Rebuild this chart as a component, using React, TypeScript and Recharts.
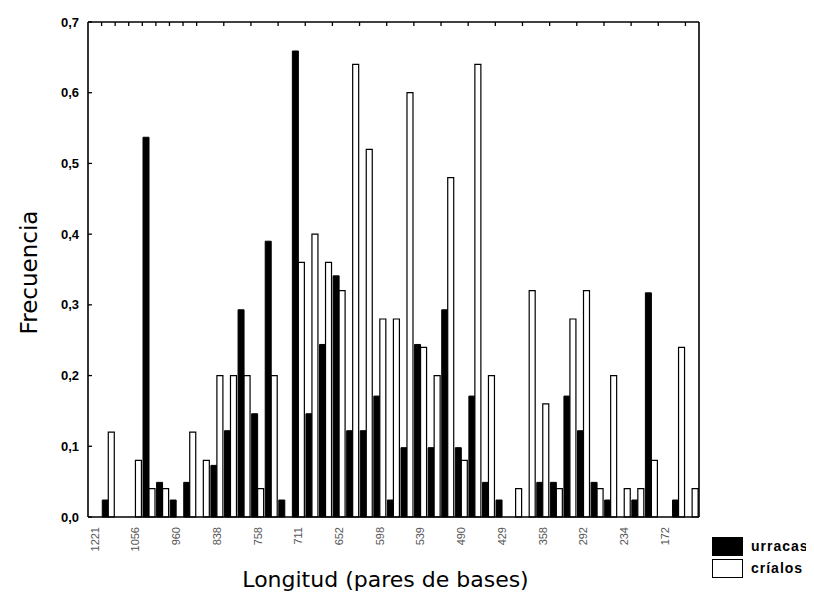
import React from 'react';
import { BarChart, Bar, XAxis, YAxis, Legend } from 'recharts';

// Category labels (longitud en pares de bases), one label every third category
const lengthLabels: string[] = [
  '1221', '', '', '1056', '', '', '960', '', '', '838', '', '', '758', '', '',
  '711', '', '', '652', '', '', '598', '', '', '539', '', '', '490', '', '',
  '429', '', '', '358', '', '', '292', '', '', '234', '', '', '172', '', '',
];

// Frecuencia – urracas (black bars)
const urracas: number[] = [
  0, 0.024, 0, 0, 0.537, 0.049, 0.024, 0.049, 0, 0.073,
  0.122, 0.293, 0.146, 0.39, 0.024, 0.659, 0.146, 0.244, 0.341, 0.122,
  0.122, 0.171, 0.024, 0.098, 0.244, 0.098, 0.293, 0.098, 0.171, 0.049,
  0.024, 0, 0, 0.049, 0.049, 0.171, 0.122, 0.049, 0.024, 0,
  0.024, 0.317, 0, 0.024, 0,
];

// Frecuencia – críalos (white bars)
const crialos: number[] = [
  0, 0.12, 0, 0.08, 0.04, 0.04, 0, 0.12, 0.08, 0.2,
  0.2, 0.2, 0.04, 0.2, 0, 0.36, 0.4, 0.36, 0.32, 0.64,
  0.52, 0.28, 0.28, 0.6, 0.24, 0.2, 0.48, 0.08, 0.64, 0.2,
  0, 0.04, 0.32, 0.16, 0.04, 0.28, 0.32, 0.04, 0.2, 0.04,
  0.04, 0.08, 0, 0.24, 0.04,
];

const yTicks: number[] = [0, 0.1, 0.2, 0.3, 0.4, 0.5, 0.6, 0.7];
const innerYTicks: number[] = [0.1, 0.2, 0.3, 0.4, 0.5, 0.6];
const boundaryTicks: number[] = [
  1, 2, 3, 4, 5, 6, 7, 8, 9, 10, 11, 12, 13, 14, 15, 16, 17, 18, 19, 20, 21, 22,
  23, 24, 25, 26, 27, 28, 29, 30, 31, 32, 33, 34, 35, 36, 37, 38, 39, 40, 41, 42, 43, 44,
];

const data = lengthLabels.map((label, i) => ({
  idx: i,
  label,
  urracas: urracas[i],
  crialos: crialos[i],
}));

const XTick = (props: any) => {
  const { x, y, payload } = props;
  const label = lengthLabels[payload.value];
  if (!label) return <g />;
  return (
    <text
      x={x}
      y={y}
      dy="0.35em"
      transform={`rotate(-90 ${x} ${y})`}
      textAnchor="end"
      fontFamily="'Liberation Sans Narrow', 'Liberation Sans', Arial, sans-serif"
      fontSize={11}
      fill="#555"
    >
      {label}
    </text>
  );
};

const YLabel = (props: any) => {
  const { viewBox } = props;
  const cx = viewBox.x + 9;
  const cy = viewBox.y + viewBox.height / 2 + 3;
  return (
    <text
      x={cx}
      y={cy}
      transform={`rotate(-90 ${cx} ${cy})`}
      textAnchor="middle"
      fontFamily="'DejaVu Sans', Verdana, sans-serif"
      fontSize={23}
      fill="#000"
    >
      Frecuencia
    </text>
  );
};

const LegendContent = () => (
  <div style={{ fontFamily: "'Liberation Sans', Arial, sans-serif", fontWeight: 'bold', fontSize: 14, letterSpacing: 1 }}>
    <div style={{ display: 'flex', alignItems: 'center', height: 22 }}>
      <div style={{ width: 29, height: 17, background: '#000', border: '1px solid #000' }} />
      <span style={{ marginLeft: 8 }}>urracas</span>
    </div>
    <div style={{ display: 'flex', alignItems: 'center', height: 22 }}>
      <div style={{ width: 29, height: 17, background: '#fff', border: '1.5px solid #000' }} />
      <span style={{ marginLeft: 8 }}>críalos</span>
    </div>
  </div>
);

const nullTick = () => <g />;

export default function App() {
  return (
    <div style={{ width: 806, height: 593, background: '#fff' }}>
      <BarChart
        width={806}
        height={593}
        data={data}
        margin={{ top: 13, right: 114, bottom: 4, left: 20 }}
        barCategoryGap={0.7}
        barGap={0}
      >
        <XAxis
          xAxisId={0}
          dataKey="idx"
          type="category"
          interval={0}
          height={80}
          tick={<XTick />}
          tickLine={false}
          tickSize={0}
          tickMargin={10}
          axisLine={{ stroke: '#000', strokeWidth: 1.6 }}
          label={{
            value: 'Longitud (pares de bases)',
            position: 'insideBottom',
            offset: 10,
            dx: -8,
            fontFamily: "'DejaVu Sans', Verdana, sans-serif",
            fontSize: 22,
            fill: '#000',
          }}
        />
        <XAxis
          xAxisId="top"
          orientation="top"
          type="number"
          dataKey="idx"
          domain={[0, 45]}
          allowDataOverflow
          ticks={boundaryTicks}
          height={1}
          tick={nullTick}
          tickSize={-4}
          tickLine={{ stroke: '#000', strokeWidth: 1.3 }}
          axisLine={{ stroke: '#000', strokeWidth: 1.6 }}
        />
        <YAxis
          yAxisId={0}
          domain={[0, 0.7]}
          ticks={yTicks}
          width={60}
          tickSize={-4}
          tickMargin={13}
          tickFormatter={(v: number) => v.toFixed(1).replace('.', ',')}
          tick={{ fontFamily: "'Liberation Sans', Arial, sans-serif", fontWeight: 'bold', fontSize: 13, fill: '#000' }}
          tickLine={{ stroke: '#000', strokeWidth: 1.3 }}
          axisLine={{ stroke: '#000', strokeWidth: 1.6 }}
          label={<YLabel />}
        />
        <YAxis
          yAxisId="right"
          orientation="right"
          domain={[0, 0.7]}
          ticks={innerYTicks}
          width={1}
          tick={nullTick}
          tickSize={-4}
          tickLine={{ stroke: '#000', strokeWidth: 1.3 }}
          axisLine={{ stroke: '#000', strokeWidth: 1.6 }}
        />
        <Legend
          layout="horizontal"
          verticalAlign="middle"
          align="center"
          content={<LegendContent />}
          wrapperStyle={{ position: 'absolute', left: 704, top: 527, width: 110 }}
        />
        <Bar dataKey="urracas" name="urracas" fill="#000" stroke="#000" strokeWidth={1} isAnimationActive={false} />
        <Bar dataKey="crialos" name="críalos" fill="#fff" stroke="#000" strokeWidth={1.2} isAnimationActive={false} />
      </BarChart>
    </div>
  );
}
